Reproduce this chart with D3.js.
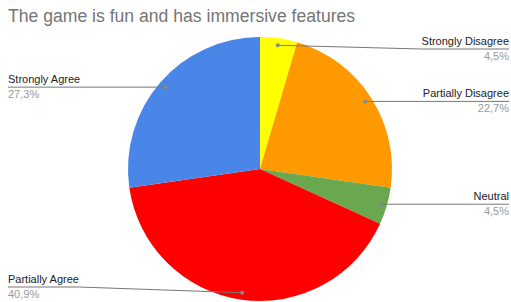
<!DOCTYPE html>
<html lang="en">
<head>
    <meta charset="UTF-8">
    <title>The game is fun and has immersive features</title>
    <script src="https://cdnjs.cloudflare.com/ajax/libs/d3/7.8.5/d3.min.js"></script>
    <style>
        html, body { margin: 0; padding: 0; background: #fff; }
        svg { display: block; font-family: "Liberation Sans", Arial, sans-serif; }
    </style>
</head>
<body>
    <div id="chart"></div>
    <script>
        // chart data
        const categories = ["Strongly Disagree", "Partially Disagree", "Neutral", "Partially Agree", "Strongly Agree"];
        const counts = [1, 5, 1, 9, 6];
        const percentLabels = ["4,5%", "22,7%", "4,5%", "40,9%", "27,3%"];
        const colors = ["#ffff00", "#ff9900", "#6aa84f", "#ff0000", "#4a86e8"];
        const title = "The game is fun and has immersive features";

        const width = 511, height = 302;
        const cx = 260, cy = 169, radius = 132;

        const svg = d3.select("#chart")
            .append("svg")
            .attr("width", width)
            .attr("height", height);

        svg.append("text")
            .attr("x", 8)
            .attr("y", 22)
            .attr("fill", "#757575")
            .style("font-size", "17.6px")
            .text(title);

        const data = categories.map((c, i) => ({ name: c, value: counts[i], pct: percentLabels[i], color: colors[i] }));

        const pie = d3.pie().value(d => d.value).sort(null);
        const arcs = pie(data);

        const arc = d3.arc().innerRadius(0).outerRadius(radius);
        const dotArc = d3.arc().innerRadius(radius * 0.947).outerRadius(radius * 0.947);

        const g = svg.append("g").attr("transform", `translate(${cx},${cy})`);

        g.selectAll("path.slice")
            .data(arcs)
            .join("path")
            .attr("class", "slice")
            .attr("d", arc)
            .attr("fill", d => d.data.color);

        // labels with leader lines
        const leftX = 8, rightX = 509;
        const labels = svg.append("g");

        arcs.forEach(d => {
            const [dx, dy] = dotArc.centroid(d);
            const px = cx + dx, py = cy + dy;
            const mid = (d.startAngle + d.endAngle) / 2;
            const onRight = mid < Math.PI;
            const ly = Math.max(49, Math.min(287, py));

            const t = labels.append("text")
                .attr("x", onRight ? rightX : leftX)
                .attr("y", ly - 4)
                .attr("text-anchor", onRight ? "end" : "start")
                .attr("fill", "#222")
                .style("font-size", "11px")
                .text(d.data.name);

            const tw = t.node().getComputedTextLength();

            labels.append("text")
                .attr("x", onRight ? rightX : leftX)
                .attr("y", ly + 11)
                .attr("text-anchor", onRight ? "end" : "start")
                .attr("fill", "#999")
                .style("font-size", "11px")
                .text(d.data.pct);

            const kneeX = onRight ? rightX - tw : leftX + tw;
            const pts = onRight
                ? [[px, py], [kneeX, ly], [rightX, ly]]
                : [[px, py], [kneeX, ly], [leftX, ly]];

            labels.append("path")
                .attr("d", d3.line()(pts))
                .attr("fill", "none")
                .attr("stroke", "#777")
                .attr("stroke-width", 1);

            labels.append("circle")
                .attr("cx", px)
                .attr("cy", py)
                .attr("r", 2)
                .attr("fill", "#888");
        });
    </script>
</body>
</html>
